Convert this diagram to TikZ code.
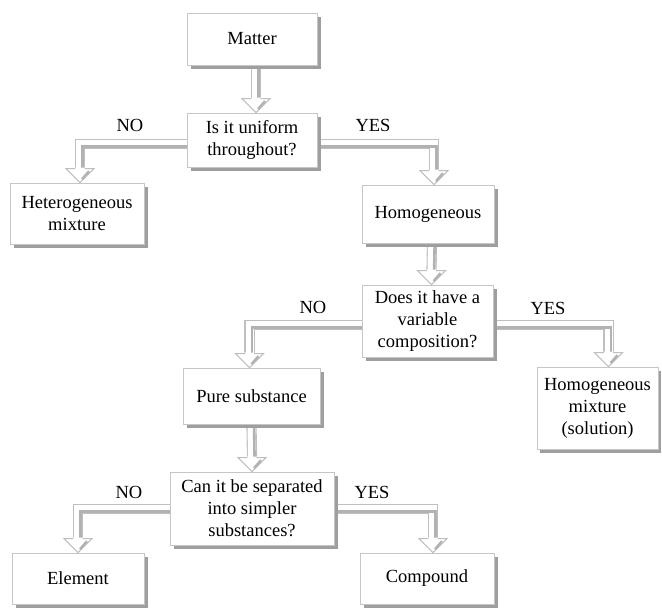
\documentclass[tikz,border=0pt]{standalone}
\usepackage{fontspec}
\setmainfont{Liberation Serif}
\usetikzlibrary{backgrounds}
\tikzset{
  box/.style={draw=gray!45, line width=0.7pt, fill=white, align=center, inner sep=0pt,
    font=\rmfamily\fontsize{18.5}{22}\selectfont},
  bshade/.style={fill=black!38},
  pipe/.style={draw=gray!50, line width=1.1pt, double=white, double distance=8pt},
  pshade/.style={draw=gray!60, line width=2.6pt, transform canvas={shift={(2.6pt,-2.6pt)}}},
  lbl/.style={font=\rmfamily\fontsize{18.5}{22}\selectfont, inner sep=0pt},
  phead/.pic={
    \fill[white] (0,0) -- (-14pt,15pt) -- (14pt,15pt) -- cycle;
    \draw[gray!50, line width=1.1pt, line join=miter] (-4.6pt,14pt) -- (-14pt,14pt) -- (0,0) -- (14pt,14pt) -- (4.6pt,14pt);
    \draw[gray!60, line width=2.4pt] (2pt,3.5pt) -- (9pt,11.5pt);
  }
}
\begin{document}
\begin{tikzpicture}[x=1pt, y=-1pt]
\useasboundingbox (0,0) rectangle (662,611);
% boxes
\node[box, minimum width=130pt, minimum height=52pt] (matter) at (252,39) {Matter};
\node[box, minimum width=130pt, minimum height=54pt] (unif) at (252,140) {Is it uniform\\throughout?};
\node[box, minimum width=134pt, minimum height=61pt] (het) at (77,213.5) {Heterogeneous\\mixture};
\node[box, minimum width=132pt, minimum height=58pt] (homo) at (428,214) {Homogeneous};
\node[box, minimum width=131pt, minimum height=72pt] (var) at (427.5,321) {Does it have a\\variable\\composition?};
\node[box, minimum width=121pt, minimum height=82pt] (sol) at (597.5,408) {Homogeneous\\mixture\\(solution)};
\node[box, minimum width=137pt, minimum height=56pt] (pure) at (251.5,396) {Pure substance};
\node[box, minimum width=164pt, minimum height=73pt] (sep) at (252,508.5) {Can it be separated\\into simpler\\substances?};
\node[box, minimum width=132pt, minimum height=51pt] (elem) at (78,578.5) {Element};
\node[box, minimum width=134pt, minimum height=51pt] (comp) at (427,578.5) {Compound};
% labels
\node[lbl] (no1) at (130,125) {NO};
\node[lbl] (yes1) at (373,125) {YES};
\node[lbl] (no2) at (313,307) {NO};
\node[lbl] (yes2) at (548,308) {YES};
\node[lbl] (no3) at (129,492) {NO};
\node[lbl] (yes3) at (372,492) {YES};
% pipes and box shadows behind the boxes
\begin{scope}[on background layer]
  \foreach \st in {pipe, pshade} {
    \draw[\st] ([xshift=4pt]matter.south) -- ([xshift=4pt,yshift=14pt]unif.north);
    \draw[\st] ([yshift=-4pt]unif.west) -| ([xshift=3pt,yshift=14pt]het.north);
    \draw[\st] ([yshift=-4pt]unif.east) -| ([xshift=6pt,yshift=14pt]homo.north);
    \draw[\st] ([xshift=4pt]homo.south) -- ([xshift=4pt,yshift=14pt]var.north);
    \draw[\st] ([yshift=-4pt]var.west) -| ([xshift=-2pt,yshift=14pt]pure.north);
    \draw[\st] ([yshift=-4pt]var.east) -| ([xshift=11pt,yshift=14pt]sol.north);
    \draw[\st] ([xshift=0pt]pure.south) -- ([xshift=0pt,yshift=14pt]sep.north);
    \draw[\st] ([yshift=-0.5pt]sep.west) -| ([xshift=0pt,yshift=14pt]elem.north);
    \draw[\st] ([yshift=-0.5pt]sep.east) -| ([xshift=6pt,yshift=14pt]comp.north);
  }
  \fill[bshade] ([shift={(4pt,-4pt)}]matter.south west) rectangle ([shift={(4pt,-4pt)}]matter.north east);
  \fill[bshade] ([shift={(4pt,-4pt)}]unif.south west) rectangle ([shift={(4pt,-4pt)}]unif.north east);
  \fill[bshade] ([shift={(4pt,-4pt)}]het.south west) rectangle ([shift={(4pt,-4pt)}]het.north east);
  \fill[bshade] ([shift={(4pt,-4pt)}]homo.south west) rectangle ([shift={(4pt,-4pt)}]homo.north east);
  \fill[bshade] ([shift={(4pt,-4pt)}]var.south west) rectangle ([shift={(4pt,-4pt)}]var.north east);
  \fill[bshade] ([shift={(3pt,-4pt)}]sol.south west) rectangle ([shift={(3pt,-4pt)}]sol.north east);
  \fill[bshade] ([shift={(4pt,-4pt)}]pure.south west) rectangle ([shift={(4pt,-4pt)}]pure.north east);
  \fill[bshade] ([shift={(4pt,-4pt)}]sep.south west) rectangle ([shift={(4pt,-4pt)}]sep.north east);
  \fill[bshade] ([shift={(4pt,-4pt)}]elem.south west) rectangle ([shift={(4pt,-4pt)}]elem.north east);
  \fill[bshade] ([shift={(4pt,-4pt)}]comp.south west) rectangle ([shift={(4pt,-4pt)}]comp.north east);
\end{scope}
% heads
\pic at ([xshift=4pt]unif.north) {phead};
\pic at ([xshift=3pt]het.north) {phead};
\pic at ([xshift=6pt]homo.north) {phead};
\pic at ([xshift=4pt]var.north) {phead};
\pic at ([xshift=-2pt]pure.north) {phead};
\pic at ([xshift=11pt]sol.north) {phead};
\pic at ([xshift=0pt]sep.north) {phead};
\pic at ([xshift=0pt]elem.north) {phead};
\pic at ([xshift=6pt]comp.north) {phead};
\end{tikzpicture}
\end{document}
